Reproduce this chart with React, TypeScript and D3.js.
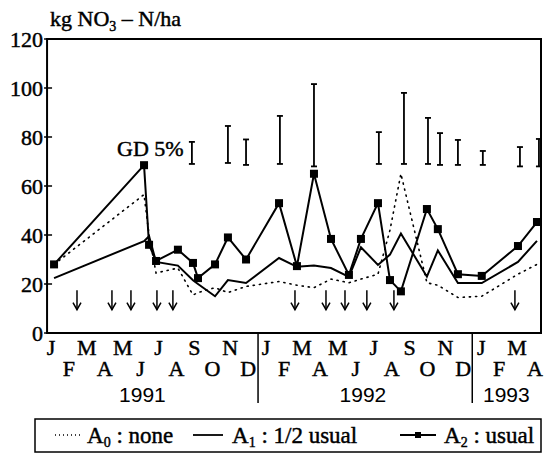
import * as d3 from "d3";

// sampling dates as months since 1 Jan 1991
const sampleDates = [
  0.17, 5.19, 5.47, 5.86, 7.08, 7.92, 8.2, 9.15, 9.87, 10.88, 12.72, 13.72, 14.67,
  15.62, 16.62, 17.29, 18.24, 18.91, 19.52, 20.97, 21.58, 22.7, 24.03, 26.05, 27.11,
];
const a0None = [
  28, 56.5, 40, 24.5, 26.5, 15.5, 16.5, 18.5, 16.5, 19, 21, 19.5, 18.5, 22, 20.5, 22,
  24, 42, 65, 20.5, 19.5, 14.5, 15, 24, 28,
];
const a1Half = [
  22.4, 37.5, 39.5, 29, 27.5, 21.5, 20, 15, 21.6, 20.4, 30.6, 27, 27.5, 26.5, 22.9, 35,
  27.8, 32, 40.6, 23, 33.7, 20.4, 20.4, 29, 37.6,
];
const a2Usual = [
  28, 68.5, 36, 29.4, 34, 28.6, 22.4, 28, 39, 30, 53, 27.3, 65, 38.4, 23.7, 38.4, 53,
  21.6, 17, 50.6, 42.4, 24, 23.3, 35.5, 45.3,
];

// GD 5% bars
const gdDates = [7.86, 9.87, 10.88, 12.77, 14.67, 18.29, 19.69, 21.03, 21.7, 22.7, 24.09, 26.16, 27.22];
const gdLow = [69, 69.4, 68.6, 69, 68, 69, 69, 69, 68.6, 68.6, 68.6, 68, 68];
const gdHigh = [78, 84.5, 79, 88.6, 101.6, 82, 98, 87.8, 81.6, 78.8, 74.3, 75.9, 79.2];

// fertilizer application (arrows)
const arrowDates = [1.45, 3.4, 4.46, 5.91, 6.8, 13.61, 15.34, 16.4, 17.62, 19.13, 25.88];

const monthLabels = "JFMAMJJASONDJFMAMJJASONDJFMA".split("");
const years = [
  { label: "1991", mid: 5.1 },
  { label: "1992", mid: 17.4 },
  { label: "1993", mid: 25.4 },
];
const yearBreaks = [11.55, 23.5];
const yTicks = [0, 20, 40, 60, 80, 100, 120];

const serif = "'Liberation Serif', 'Times New Roman', serif";
const sans = "'Liberation Sans', Arial, sans-serif";
// scanned print looks heavy, thicken glyphs a bit
const ink = { stroke: "#000", strokeWidth: 0.45 };

export default function App() {
  const W = 547;
  const H = 456;
  const x = d3.scaleLinear().domain([0, 27]).range([51, 535]);
  const y = d3.scaleLinear().domain([0, 120]).range([333, 39]);
  const left = x(-0.22);
  const right = 541;

  const pts = (vals: number[]) => sampleDates.map((d, i) => [d, vals[i]] as [number, number]);
  const line = d3
    .line<[number, number]>()
    .x((d) => x(d[0]))
    .y((d) => y(d[1]));

  const legY = 435;

  return (
    <svg width={W} height={H} style={{ position: "absolute", left: 0, top: 0, background: "#fff" }}>
      {/* title */}
      <text x={50} y={26} fontFamily={serif} fontSize={22} {...ink}>
        kg NO<tspan fontSize={14} dy={5}>3</tspan>
        <tspan dy={-5}> – N/ha</tspan>
      </text>

      {/* frame */}
      <path
        d={`M${left},${y(120)}H${right}V${y(0)}H${left}Z`}
        fill="none"
        stroke="#000"
        strokeWidth={2}
      />

      {/* y axis ticks */}
      {yTicks.map((t) => (
        <g key={t}>
          <line x1={left - 3} x2={left + 5} y1={y(t)} y2={y(t)} stroke="#000" strokeWidth={1.5} />
          <text
            x={left - 4}
            y={y(t)}
            dy="0.35em"
            textAnchor="end"
            fontFamily={serif}
            fontSize={22}
            {...ink}
          >
            {t}
          </text>
        </g>
      ))}

      {/* month labels */}
      {monthLabels.map((m, i) => (
        <text
          key={i}
          x={x(i)}
          y={i % 2 === 0 ? 355 : 376}
          textAnchor="middle"
          fontFamily={serif}
          fontSize={22}
          {...ink}
        >
          {m}
        </text>
      ))}
      {yearBreaks.map((b) => (
        <line key={b} x1={x(b)} x2={x(b)} y1={y(0)} y2={403} stroke="#000" strokeWidth={1.5} />
      ))}
      {years.map((yr) => (
        <text key={yr.label} x={x(yr.mid)} y={402} textAnchor="middle" fontFamily={sans} fontSize={21}>
          {yr.label}
        </text>
      ))}

      {/* GD 5% */}
      <text x={117} y={156} fontFamily={serif} fontSize={22} {...ink}>
        GD 5%
      </text>
      {gdDates.map((d, i) => (
        <g key={i} stroke="#000" strokeWidth={1.8}>
          <line x1={x(d)} x2={x(d)} y1={y(gdLow[i])} y2={y(gdHigh[i])} />
          <line x1={x(d) - 3} x2={x(d) + 3} y1={y(gdLow[i])} y2={y(gdLow[i])} />
          <line x1={x(d) - 3} x2={x(d) + 3} y1={y(gdHigh[i])} y2={y(gdHigh[i])} />
        </g>
      ))}

      {/* arrows */}
      {arrowDates.map((d, i) => (
        <g key={i} stroke="#000" strokeWidth={1.5} fill="none">
          <line x1={x(d)} x2={x(d)} y1={y(17.5)} y2={y(9.5)} />
          <path d={`M${x(d) - 4},${y(9.5) - 7}L${x(d)},${y(9.5)}L${x(d) + 4},${y(9.5) - 7}`} />
        </g>
      ))}

      {/* series */}
      <path
        d={line(pts(a0None)) ?? ""}
        fill="none"
        stroke="#000"
        strokeWidth={1.6}
        strokeDasharray="1.2,5"
        strokeLinecap="round"
      />
      <path d={line(pts(a1Half)) ?? ""} fill="none" stroke="#000" strokeWidth={2} />
      <path d={line(pts(a2Usual)) ?? ""} fill="none" stroke="#000" strokeWidth={2} />
      {pts(a2Usual).map((p, i) => (
        <rect key={i} x={x(p[0]) - 4} y={y(p[1]) - 4} width={8} height={8} fill="#000" />
      ))}

      {/* legend */}
      <rect x={35} y={419} width={506} height={33} fill="none" stroke="#000" strokeWidth={1.5} />
      <line
        x1={55}
        x2={80}
        y1={legY}
        y2={legY}
        stroke="#000"
        strokeWidth={1.4}
        strokeDasharray="1,3"
      />
      <text x={87} y={legY + 8} fontFamily={serif} fontSize={23} {...ink}>
        A<tspan fontSize={14} dy={4}>0</tspan>
        <tspan dy={-4}> : none</tspan>
      </text>
      <line x1={193} x2={223} y1={legY} y2={legY} stroke="#000" strokeWidth={1.8} />
      <text x={232} y={legY + 8} fontFamily={serif} fontSize={23} {...ink}>
        A<tspan fontSize={14} dy={4}>1</tspan>
        <tspan dy={-4}> : 1/2 usual</tspan>
      </text>
      <line x1={400} x2={436} y1={legY} y2={legY} stroke="#000" strokeWidth={1.8} />
      <rect x={415} y={legY - 3} width={6} height={6} fill="#000" />
      <text x={444} y={legY + 8} fontFamily={serif} fontSize={23} {...ink}>
        A<tspan fontSize={14} dy={4}>2</tspan>
        <tspan dy={-4}> : usual</tspan>
      </text>
    </svg>
  );
}
